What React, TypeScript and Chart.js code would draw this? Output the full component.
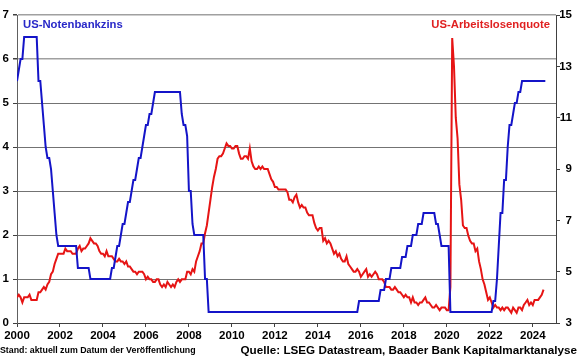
import { useEffect, useRef } from 'react';
import { Chart, registerables } from 'chart.js';

Chart.register(...registerables);

const START_YEAR = 2000;
const X_MAX = 2025.08;
const xTickStep = 2;
const leftTickStep = 1;
const rightTickStep = 2;

// US-Notenbankzins (Fed Funds target, upper bound), monthly from Jan 2000
const fedFundsRate: number[] = [
  // 2000
  5.5, 5.75, 6.0, 6.0, 6.5, 6.5, 6.5, 6.5, 6.5, 6.5, 6.5, 6.5,
  // 2001
  5.5, 5.5, 5.0, 4.5, 4.0, 3.75, 3.75, 3.5, 3.0, 2.5, 2.0, 1.75,
  // 2002
  1.75, 1.75, 1.75, 1.75, 1.75, 1.75, 1.75, 1.75, 1.75, 1.75, 1.25, 1.25,
  // 2003
  1.25, 1.25, 1.25, 1.25, 1.25, 1.0, 1.0, 1.0, 1.0, 1.0, 1.0, 1.0,
  // 2004
  1.0, 1.0, 1.0, 1.0, 1.0, 1.25, 1.25, 1.5, 1.75, 1.75, 2.0, 2.25,
  // 2005
  2.25, 2.5, 2.75, 2.75, 3.0, 3.25, 3.25, 3.5, 3.75, 3.75, 4.0, 4.25,
  // 2006
  4.5, 4.5, 4.75, 4.75, 5.0, 5.25, 5.25, 5.25, 5.25, 5.25, 5.25, 5.25,
  // 2007
  5.25, 5.25, 5.25, 5.25, 5.25, 5.25, 5.25, 5.25, 4.75, 4.5, 4.5, 4.25,
  // 2008
  3.0, 3.0, 2.25, 2.0, 2.0, 2.0, 2.0, 2.0, 2.0, 1.0, 1.0, 0.25,
  // 2009
  0.25, 0.25, 0.25, 0.25, 0.25, 0.25, 0.25, 0.25, 0.25, 0.25, 0.25, 0.25,
  // 2010
  0.25, 0.25, 0.25, 0.25, 0.25, 0.25, 0.25, 0.25, 0.25, 0.25, 0.25, 0.25,
  // 2011
  0.25, 0.25, 0.25, 0.25, 0.25, 0.25, 0.25, 0.25, 0.25, 0.25, 0.25, 0.25,
  // 2012
  0.25, 0.25, 0.25, 0.25, 0.25, 0.25, 0.25, 0.25, 0.25, 0.25, 0.25, 0.25,
  // 2013
  0.25, 0.25, 0.25, 0.25, 0.25, 0.25, 0.25, 0.25, 0.25, 0.25, 0.25, 0.25,
  // 2014
  0.25, 0.25, 0.25, 0.25, 0.25, 0.25, 0.25, 0.25, 0.25, 0.25, 0.25, 0.25,
  // 2015
  0.25, 0.25, 0.25, 0.25, 0.25, 0.25, 0.25, 0.25, 0.25, 0.25, 0.25, 0.5,
  // 2016
  0.5, 0.5, 0.5, 0.5, 0.5, 0.5, 0.5, 0.5, 0.5, 0.5, 0.5, 0.75,
  // 2017
  0.75, 0.75, 1.0, 1.0, 1.0, 1.25, 1.25, 1.25, 1.25, 1.25, 1.25, 1.5,
  // 2018
  1.5, 1.5, 1.75, 1.75, 1.75, 2.0, 2.0, 2.0, 2.25, 2.25, 2.25, 2.5,
  // 2019
  2.5, 2.5, 2.5, 2.5, 2.5, 2.5, 2.25, 2.25, 2.0, 1.75, 1.75, 1.75,
  // 2020
  1.75, 1.75, 0.25, 0.25, 0.25, 0.25, 0.25, 0.25, 0.25, 0.25, 0.25, 0.25,
  // 2021
  0.25, 0.25, 0.25, 0.25, 0.25, 0.25, 0.25, 0.25, 0.25, 0.25, 0.25, 0.25,
  // 2022
  0.25, 0.25, 0.5, 0.5, 1.0, 1.75, 2.5, 2.5, 3.25, 3.25, 4.0, 4.5,
  // 2023
  4.5, 4.75, 5.0, 5.0, 5.25, 5.25, 5.5, 5.5, 5.5, 5.5, 5.5, 5.5,
  // 2024
  5.5, 5.5, 5.5, 5.5, 5.5, 5.5, 5.5, 5.5,
];

// US-Arbeitslosenquote (%), monthly from Jan 2000
const unemploymentRate: number[] = [
  // 2000
  4.0, 4.1, 4.0, 3.8, 4.0, 4.0, 4.0, 4.1, 3.9, 3.9, 3.9, 3.9,
  // 2001
  4.2, 4.2, 4.3, 4.4, 4.3, 4.5, 4.6, 4.9, 5.0, 5.3, 5.5, 5.7,
  // 2002
  5.7, 5.7, 5.7, 5.9, 5.8, 5.8, 5.8, 5.7, 5.7, 5.7, 5.9, 6.0,
  // 2003
  5.8, 5.9, 5.9, 6.0, 6.1, 6.3, 6.2, 6.1, 6.1, 6.0, 5.8, 5.7,
  // 2004
  5.7, 5.6, 5.8, 5.6, 5.6, 5.6, 5.5, 5.4, 5.4, 5.5, 5.4, 5.4,
  // 2005
  5.3, 5.4, 5.2, 5.2, 5.1, 5.0, 5.0, 4.9, 5.0, 5.0, 5.0, 4.9,
  // 2006
  4.7, 4.8, 4.7, 4.7, 4.6, 4.6, 4.7, 4.7, 4.5, 4.4, 4.5, 4.4,
  // 2007
  4.6, 4.5, 4.4, 4.5, 4.4, 4.6, 4.7, 4.6, 4.7, 4.7, 4.7, 5.0,
  // 2008
  5.0, 4.9, 5.1, 5.0, 5.4, 5.6, 5.8, 6.1, 6.1, 6.5, 6.8, 7.3,
  // 2009
  7.8, 8.3, 8.7, 9.0, 9.4, 9.5, 9.5, 9.6, 9.8, 10.0, 9.9, 9.9,
  // 2010
  9.8, 9.8, 9.9, 9.9, 9.6, 9.4, 9.4, 9.5, 9.5, 9.4, 9.8, 9.3,
  // 2011
  9.1, 9.0, 9.0, 9.1, 9.0, 9.1, 9.0, 9.0, 9.0, 8.8, 8.6, 8.5,
  // 2012
  8.3, 8.3, 8.2, 8.2, 8.2, 8.2, 8.2, 8.1, 7.8, 7.8, 7.7, 7.9,
  // 2013
  8.0, 7.7, 7.5, 7.6, 7.5, 7.5, 7.3, 7.2, 7.2, 7.2, 6.9, 6.7,
  // 2014
  6.6, 6.7, 6.7, 6.2, 6.3, 6.1, 6.2, 6.1, 5.9, 5.7, 5.8, 5.6,
  // 2015
  5.7, 5.5, 5.4, 5.4, 5.6, 5.3, 5.2, 5.1, 5.0, 5.0, 5.1, 5.0,
  // 2016
  4.8, 4.9, 5.0, 5.1, 4.8, 4.9, 4.8, 4.9, 5.0, 4.9, 4.7, 4.7,
  // 2017
  4.7, 4.6, 4.4, 4.4, 4.4, 4.3, 4.3, 4.4, 4.3, 4.2, 4.2, 4.1,
  // 2018
  4.0, 4.1, 4.0, 4.0, 3.8, 4.0, 3.8, 3.8, 3.7, 3.8, 3.8, 3.9,
  // 2019
  4.0, 3.8, 3.8, 3.7, 3.6, 3.6, 3.7, 3.6, 3.5, 3.6, 3.6, 3.6,
  // 2020
  3.5, 3.5, 4.4, 14.1, 13.0, 11.0, 10.2, 8.4, 7.8, 6.8, 6.7, 6.7,
  // 2021
  6.4, 6.2, 6.1, 6.1, 5.8, 5.9, 5.4, 5.1, 4.7, 4.5, 4.2, 3.9,
  // 2022
  4.0, 3.8, 3.6, 3.7, 3.6, 3.6, 3.5, 3.6, 3.5, 3.6, 3.6, 3.5,
  // 2023
  3.4, 3.6, 3.5, 3.4, 3.6, 3.6, 3.5, 3.7, 3.8, 3.9, 3.7, 3.8,
  // 2024
  3.7, 3.9, 3.9, 3.9, 4.0, 4.1, 4.3,
];

const leftLabel = 'US-Notenbankzins';
const rightLabel = 'US-Arbeitslosenquote';
const footerLeft = 'Stand: aktuell zum Datum der Veröffentlichung';
const footerRight = 'Quelle: LSEG Datastream, Baader Bank Kapitalmarktanalyse';

const BLUE = '#1414c8';
const RED = '#e61414';
const FONT = '"Liberation Sans", Arial, sans-serif';

function toPoints(values: number[]) {
  return values.map((v, i) => ({ x: START_YEAR + i / 12, y: v }));
}

export default function App() {
  const canvasRef = useRef<HTMLCanvasElement | null>(null);

  useEffect(() => {
    if (!canvasRef.current) return;
    const tickFont = { family: FONT, size: 11.5, weight: 'bold' as const };
    const chart = new Chart(canvasRef.current, {
      type: 'line',
      data: {
        datasets: [
          {
            label: leftLabel,
            data: toPoints(fedFundsRate),
            borderColor: BLUE,
            borderWidth: 2,
            yAxisID: 'y',
            pointRadius: 0,
            tension: 0,
          },
          {
            label: rightLabel,
            data: toPoints(unemploymentRate),
            borderColor: RED,
            borderWidth: 2,
            yAxisID: 'y2',
            pointRadius: 0,
            tension: 0,
          },
        ],
      },
      options: {
        animation: false,
        responsive: false,
        maintainAspectRatio: false,
        layout: { padding: { top: 15, left: 0, right: 8, bottom: 0 } },
        plugins: { legend: { display: false }, tooltip: { enabled: false } },
        scales: {
          x: {
            type: 'linear',
            min: START_YEAR,
            max: X_MAX,
            afterFit: (s: any) => { s.height = 35; },
            ticks: {
              stepSize: xTickStep,
              includeBounds: false,
              autoSkip: false,
              maxRotation: 0,
              padding: 2,
              color: '#000',
              font: tickFont,
              callback: (v: any) => String(v),
            },
            grid: { drawOnChartArea: false, drawTicks: true, tickLength: 4, tickColor: '#404040' },
            border: { display: true, color: '#404040', width: 1 },
          },
          y: {
            position: 'left',
            min: 0,
            max: 7,
            afterFit: (s: any) => { s.width = 17; },
            ticks: { stepSize: leftTickStep, padding: 4, color: '#000', font: tickFont },
            grid: {
              color: (ctx: any) => (ctx.tick && ctx.tick.value >= 6 ? '#a0a0a0' : '#737373'),
              lineWidth: (ctx: any) => (ctx.tick && ctx.tick.value >= 6 ? 1.5 : 1),
              drawTicks: true,
              tickLength: 4,
              tickColor: '#404040',
            },
            border: { display: true, color: '#606060', width: 1 },
          },
          y2: {
            position: 'right',
            min: 3,
            max: 15,
            afterFit: (s: any) => { s.width = 16; },
            ticks: { stepSize: rightTickStep, padding: 0, crossAlign: 'far', color: '#000', font: tickFont },
            grid: { drawOnChartArea: false, drawTicks: true, tickLength: 4, tickColor: '#404040' },
            border: { display: true, color: '#404040', width: 1 },
          },
        },
      } as any,
    });
    return () => chart.destroy();
  }, []);

  const base: React.CSSProperties = {
    position: 'absolute',
    fontFamily: FONT,
    fontWeight: 'bold',
    whiteSpace: 'nowrap',
  };

  return (
    <div style={{ position: 'absolute', left: 0, top: 0, width: 580, height: 358, background: '#fff', overflow: 'hidden' }}>
      <canvas ref={canvasRef} width={580} height={358} style={{ display: 'block', width: 580, height: 358 }} />
      <div style={{ ...base, left: 23, top: 18, fontSize: 11.3, lineHeight: '13px', color: '#2828c8' }}>{leftLabel}</div>
      <div style={{ ...base, right: 30, top: 18, fontSize: 11.3, lineHeight: '13px', color: '#e02020' }}>{rightLabel}</div>
      <div style={{ ...base, left: 0, top: 344, fontSize: 8.8, lineHeight: '12px', color: '#000' }}>{footerLeft}</div>
      <div style={{ ...base, right: 3, top: 343, fontSize: 11.7, lineHeight: '14px', color: '#000' }}>{footerRight}</div>
    </div>
  );
}
